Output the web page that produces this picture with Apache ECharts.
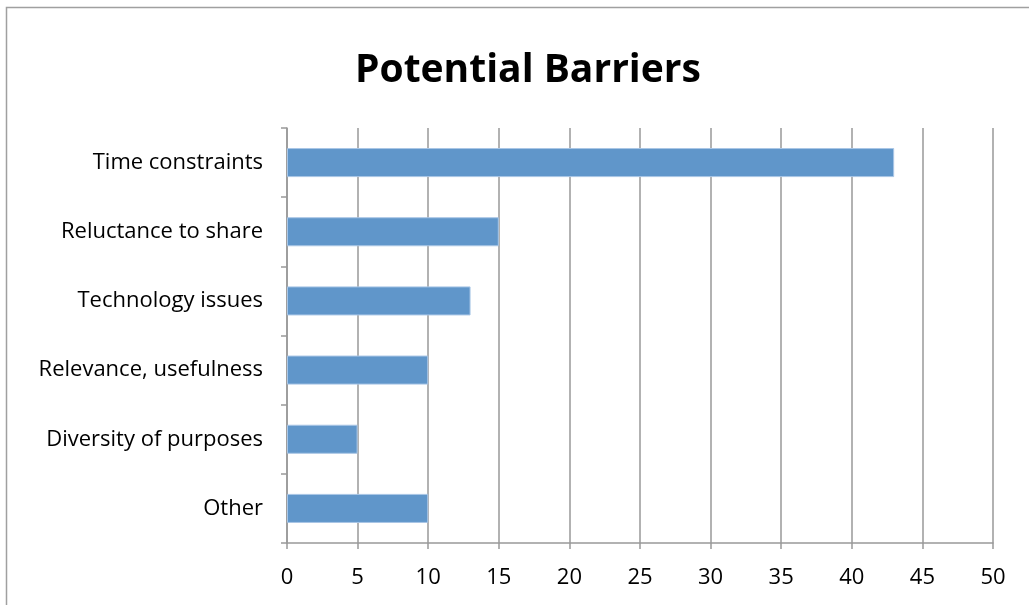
<!DOCTYPE html>
<html>
<head>
<meta charset="utf-8">
<script src="https://cdn.jsdelivr.net/npm/echarts@6/dist/echarts.min.js"></script>
<style>
  html, body { margin: 0; padding: 0; background: #fff; }
  #main { width: 1029px; height: 605px; }
</style>
</head>
<body>
<div id="main"></div>
<script>
var categories = ['Time constraints', 'Reluctance to share', 'Technology issues',
  'Relevance, usefulness', 'Diversity of purposes', 'Other'];
var counts = [43, 15, 13, 10, 5, 10];
var xTicks = [0, 5, 10, 15, 20, 25, 30, 35, 40, 45, 50];

var myChart = echarts.init(document.getElementById('main'));

var option = {
  animation: false,
  textStyle: { fontFamily: 'Open Sans' },
  title: {
    text: 'Potential Barriers',
    left: 350,
    top: 46,
    textStyle: { fontSize: 39, fontWeight: 'bold', color: '#000', fontFamily: 'Open Sans' }
  },
  graphic: [{
    type: 'rect',
    shape: { x: 6.5, y: 7.5, width: 1040, height: 620 },
    style: { fill: 'none', stroke: '#a0a0a0', lineWidth: 1.5 },
    silent: true
  }],
  grid: { left: 287, right: 36, top: 128, bottom: 62 },
  xAxis: {
    type: 'value',
    min: 0, max: 50, interval: 5,
    axisLine: { show: true, lineStyle: { color: '#999', width: 1.5 } },
    axisTick: { show: true, length: 6, lineStyle: { color: '#999', width: 1.5 } },
    axisLabel: { color: '#000', fontSize: 22, margin: 24,
      formatter: function (v) { return xTicks.indexOf(v) >= 0 ? String(v) : ''; } },
    splitLine: { show: true, lineStyle: { color: '#999', width: 1.5 } }
  },
  yAxis: {
    type: 'category',
    inverse: true,
    data: categories,
    axisLine: { show: true, lineStyle: { color: '#999', width: 1.5 } },
    axisTick: { show: true, length: 6, lineStyle: { color: '#999', width: 1.5 } },
    axisLabel: { color: '#000', fontSize: 22, margin: 24 }
  },
  series: [{
    type: 'bar',
    data: counts,
    barCategoryGap: '58%',
    itemStyle: { color: '#6096ca', borderColor: '#a9c6e6', borderWidth: 1 }
  }]
};

myChart.setOption(option);
</script>
</body>
</html>
